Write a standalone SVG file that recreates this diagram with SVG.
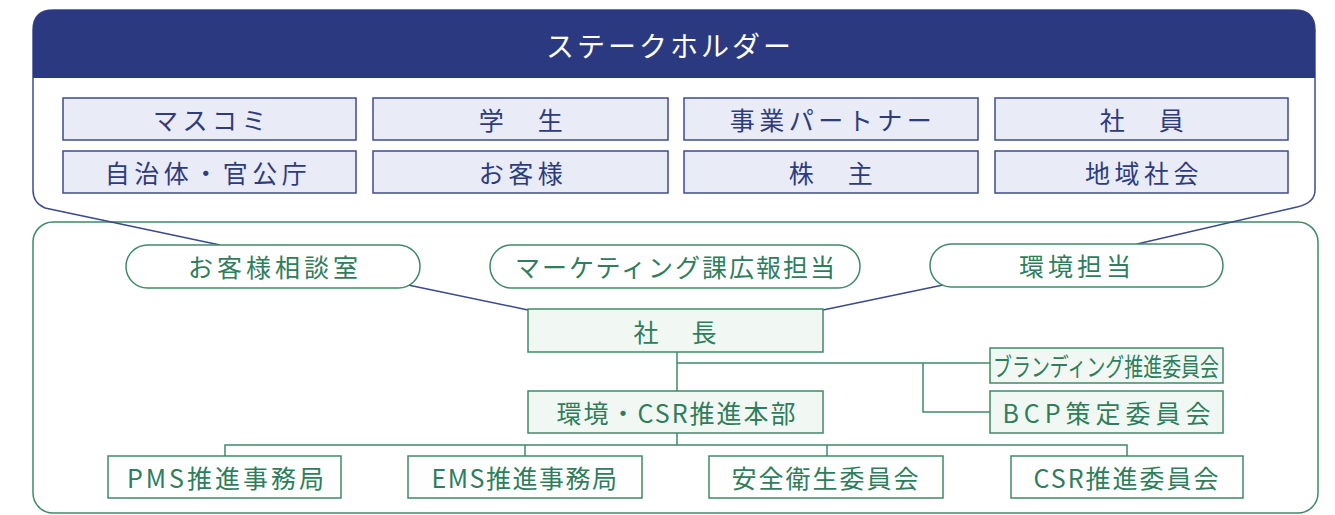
<svg xmlns="http://www.w3.org/2000/svg" width="1335" height="515" viewBox="0 0 1335 515">
<style>
text{font-family:"Noto Sans CJK JP","Noto Sans",sans-serif;text-anchor:middle;dominant-baseline:central}
.sh rect{fill:#e9ebf6;stroke:#3f4c8c;stroke-width:1.5}
.sh text{fill:#2f3c7c;font-size:25px;letter-spacing:4.5px}
.pill rect{fill:#fff;stroke:#3f8a68;stroke-width:1.5}
.g text{fill:#2f7d5c;font-size:25px}
.org rect{fill:#f1f8f3;stroke:#3f8a68;stroke-width:1.5}
.org2 rect{fill:#fdfefd;stroke:#3f8a68;stroke-width:1.5}
.conn-g{stroke:#3f8a68;stroke-width:1.5;fill:none}
.conn-n{stroke:#3a4a8a;stroke-width:1.5;fill:none}
</style>
<!-- bottom organisation frame -->
<rect id="org-frame" x="33" y="222" width="1285" height="291" rx="20" fill="#fff" stroke="#3f8a68" stroke-width="1.5"/>
<!-- stakeholder callout -->
<g id="stakeholder-frame">
<path d="M45,208 Q33,203 33,190 L33,30 Q33,10 53,10 L1295,10 Q1315,10 1315,30 L1315,190 Q1315,203 1297,207" fill="#fff" stroke="#3f4c8c" stroke-width="1.5"/>
<path d="M33,78 L33,30 Q33,10 53,10 L1295,10 Q1315,10 1315,30 L1315,78 Z" fill="#2b3a80"/>
<text x="670" y="45" fill="#fff" font-size="28" letter-spacing="3">ステークホルダー</text>
</g>
<g id="connectors">
<line class="conn-n" x1="45" y1="208" x2="220" y2="245"/>
<line class="conn-n" x1="1297" y1="207" x2="1137" y2="244"/>
<line class="conn-n" x1="408" y1="285" x2="528" y2="310"/>
<line class="conn-n" x1="823" y1="310" x2="943" y2="285"/>
<path class="conn-g" d="M677,352 V391"/>
<path class="conn-g" d="M677,363 H990"/>
<path class="conn-g" d="M923,363 V412 H990"/>
<path class="conn-g" d="M677,433 V445"/>
<path class="conn-g" d="M225,456 V445 H1127 V456"/>
<path class="conn-g" d="M525,445 V456"/>
<path class="conn-g" d="M827,445 V456"/>
</g>
<g class="sh">
<g id="sh-masukomi"><rect x="63" y="98" width="293" height="42"/><text x="212" y="119">マスコミ</text></g>
<g id="sh-gakusei"><rect x="373" y="98" width="295" height="42"/><text x="523" y="119">学　生</text></g>
<g id="sh-partner"><rect x="684" y="98" width="294" height="42"/><text x="833" y="119">事業パートナー</text></g>
<g id="sh-shain"><rect x="995" y="98" width="293" height="42"/><text x="1144" y="119">社　員</text></g>
<g id="sh-jichitai"><rect x="63" y="151" width="293" height="42"/><text x="208" y="172" letter-spacing="3">自治体・官公庁</text></g>
<g id="sh-okyakusama"><rect x="373" y="151" width="295" height="42"/><text x="523" y="172">お客様</text></g>
<g id="sh-kabunushi"><rect x="684" y="151" width="294" height="42"/><text x="833" y="172">株　主</text></g>
<g id="sh-chiiki"><rect x="995" y="151" width="293" height="42"/><text x="1144" y="172">地域社会</text></g>
</g>
<g class="g pill">
<g id="pill-soudan"><rect x="126" y="245" width="294" height="43" rx="21.5"/><text x="275" y="266" letter-spacing="4">お客様相談室</text></g>
<g id="pill-marketing"><rect x="490" y="245" width="370" height="43" rx="21.5"/><text x="676" y="266" letter-spacing="2">マーケティング課広報担当</text></g>
<g id="pill-kankyo"><rect x="930" y="244" width="293" height="43" rx="21.5"/><text x="1077" y="265" letter-spacing="4">環境担当</text></g>
</g>
<g class="g org">
<g id="shacho"><rect x="528" y="309" width="295" height="43"/><text x="677" y="331" letter-spacing="4">社　長</text></g>
<g id="csr-honbu"><rect x="528" y="391" width="295" height="42"/><text x="677" y="412" letter-spacing="2">環境・CSR推進本部</text></g>
<g id="branding"><rect x="990" y="348" width="233" height="35"/><text x="1106" y="365" font-size="22" textLength="226" lengthAdjust="spacingAndGlyphs">ブランディング推進委員会</text></g>
<g id="bcp"><rect x="990" y="391" width="233" height="42"/><text x="1109" y="412" letter-spacing="5">BCP策定委員会</text></g>
</g>
<g class="g org2">
<g id="pms"><rect x="108" y="456" width="233" height="42"/><text x="227" y="477" letter-spacing="3">PMS推進事務局</text></g>
<g id="ems"><rect x="408" y="456" width="234" height="42"/><text x="525" y="477" letter-spacing="1.5">EMS推進事務局</text></g>
<g id="anzen"><rect x="709" y="456" width="234" height="42"/><text x="826" y="477" letter-spacing="2">安全衛生委員会</text></g>
<g id="csr-iinkai"><rect x="1011" y="456" width="232" height="42"/><text x="1127" y="477" letter-spacing="2">CSR推進委員会</text></g>
</g>
</svg>
